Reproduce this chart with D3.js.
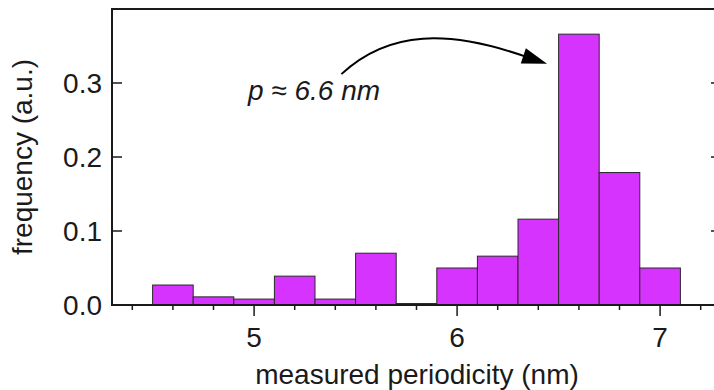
<!DOCTYPE html>
<meta charset="utf-8">
<style>
  body { margin: 0; background: #fff; }
  svg { display: block; font-family: "Liberation Sans", Arial, sans-serif; }
</style>
<svg width="714" height="390"></svg>

<script src="https://d3js.org/d3.v7.min.js"></script>
<script>
// histogram bins (nm), width 0.2
var binStarts = [4.5, 4.7, 4.9, 5.1, 5.3, 5.5, 5.7, 5.9, 6.1, 6.3, 6.5, 6.7, 6.9]
var binWidth = 0.2
var frequency = [0.027, 0.011, 0.008, 0.039, 0.008, 0.070, 0.002, 0.050, 0.066, 0.116, 0.366, 0.179, 0.050]

var xMajor = [5, 6, 7]
var xMinor = [4.4, 4.6, 4.8, 5.2, 5.4, 5.6, 5.8, 6.2, 6.4, 6.6, 6.8, 7.2]
var yTicks = [0.0, 0.1, 0.2, 0.3]

var annotation = "p ≈ 6.6 nm"
// arrow path in data units: start, two controls, end, tip
var arrowPts = [[5.43, 0.312], [5.665, 0.372], [5.96, 0.372], [6.345, 0.335], [6.443, 0.326]]

var svg = d3.select('svg')

var x = d3.scaleLinear().domain([4.3, 7.3]).range([112, 721])
var y = d3.scaleLinear().domain([0, 0.4]).range([305, 9])

var ink = '#1a1a1a'
var fontSize = 28

// bars
svg.append('g')
  .selectAll('rect')
  .data(frequency)
  .enter().append('rect')
  .attr('x', function (d, i) { return x(binStarts[i]) })
  .attr('width', function (d, i) { return x(binStarts[i] + binWidth) - x(binStarts[i]) })
  .attr('y', function (d) { return y(d) })
  .attr('height', function (d) { return y(0) - y(d) })
  .attr('fill', '#d633fe')
  .attr('stroke', '#2a2a2a')
  .attr('stroke-width', 1)

// frame
var frame = svg.append('g').attr('stroke', ink).attr('stroke-width', 2).attr('fill', 'none')
frame.append('line').attr('x1', x(4.3)).attr('x2', x(7.3)).attr('y1', y(0)).attr('y2', y(0))
frame.append('line').attr('x1', x(4.3)).attr('x2', x(7.3)).attr('y1', y(0.4)).attr('y2', y(0.4))
frame.append('line').attr('x1', x(4.3)).attr('x2', x(4.3)).attr('y1', y(0) + 1).attr('y2', y(0.4) - 1)
frame.append('line').attr('x1', x(7.3)).attr('x2', x(7.3)).attr('y1', y(0) + 1).attr('y2', y(0.4) - 1)

// x ticks (outward)
var ticks = svg.append('g').attr('stroke', ink).attr('stroke-width', 1.5)
ticks.selectAll('.minor').data(xMinor).enter().append('line')
  .attr('x1', function (d) { return x(d) }).attr('x2', function (d) { return x(d) })
  .attr('y1', y(0)).attr('y2', y(0) + 5)
ticks.selectAll('.major').data(xMajor).enter().append('line')
  .attr('x1', function (d) { return x(d) }).attr('x2', function (d) { return x(d) })
  .attr('y1', y(0)).attr('y2', y(0) + 11)

// y ticks (inward, both sides)
ticks.selectAll('.yl').data(yTicks.slice(1)).enter().append('line')
  .attr('x1', x(4.3)).attr('x2', x(4.3) + 10)
  .attr('y1', function (d) { return y(d) }).attr('y2', function (d) { return y(d) })
ticks.selectAll('.yr').data(yTicks.slice(1)).enter().append('line')
  .attr('x1', x(7.3)).attr('x2', x(7.3) - 10)
  .attr('y1', function (d) { return y(d) }).attr('y2', function (d) { return y(d) })

// tick labels
svg.append('g').selectAll('text').data(xMajor).enter().append('text')
  .attr('x', function (d) { return x(d) })
  .attr('y', 347)
  .attr('text-anchor', 'middle')
  .attr('font-size', fontSize)
  .attr('fill', ink)
  .text(function (d) { return d })

svg.append('g').selectAll('text').data(yTicks).enter().append('text')
  .attr('x', 102)
  .attr('y', function (d) { return y(d) + 10 })
  .attr('text-anchor', 'end')
  .attr('font-size', fontSize)
  .attr('fill', ink)
  .text(function (d) { return d3.format('.1f')(d) })

// axis titles
svg.append('text')
  .attr('x', 417).attr('y', 384)
  .attr('text-anchor', 'middle')
  .attr('font-size', fontSize)
  .attr('fill', ink)
  .text('measured periodicity (nm)')

svg.append('text')
  .attr('transform', 'translate(32,157) rotate(-90)')
  .attr('text-anchor', 'middle')
  .attr('font-size', fontSize)
  .attr('fill', ink)
  .text('frequency (a.u.)')

// annotation
svg.append('text')
  .attr('x', 248).attr('y', 100)
  .attr('font-size', fontSize)
  .attr('font-style', 'italic')
  .attr('fill', ink)
  .attr('xml:space', 'preserve')
  .text(annotation)

var p = arrowPts.map(function (d) { return [x(d[0]), y(d[1])] })
svg.append('path')
  .attr('d', 'M' + p[0] + 'C' + p[1] + ' ' + p[2] + ' ' + p[3])
  .attr('fill', 'none')
  .attr('stroke', '#000')
  .attr('stroke-width', 2)

var tip = p[4], dx = tip[0] - p[3][0], dy = tip[1] - p[3][1]
var len = Math.sqrt(dx * dx + dy * dy), ux = dx / len, uy = dy / len
var bx = tip[0] - 25 * ux, by = tip[1] - 25 * uy
svg.append('path')
  .attr('d', 'M' + tip + 'L' + [bx - 8 * uy, by + 8 * ux] + 'L' + [bx + 8 * uy, by - 8 * ux] + 'Z')
  .attr('fill', '#000')
</script>
